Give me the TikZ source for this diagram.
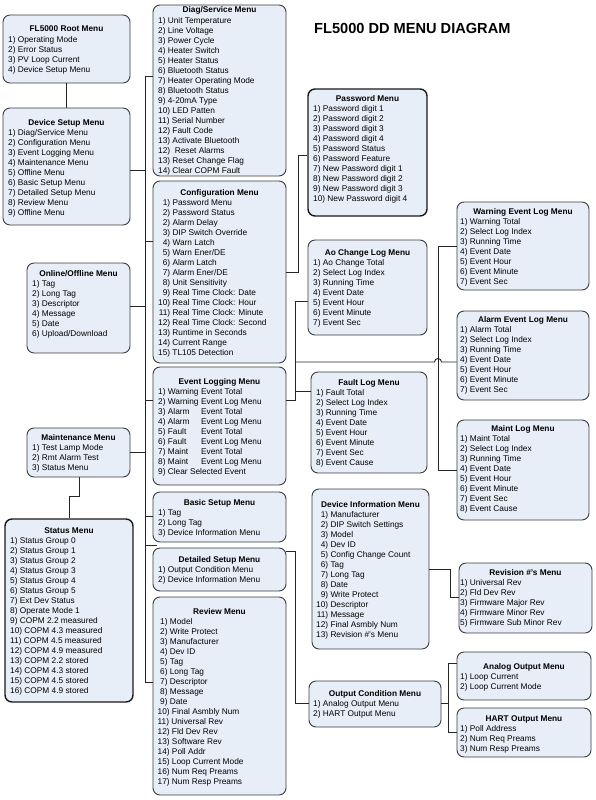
\documentclass[tikz,border=0pt]{standalone}
\usepackage{fontspec}
\setmainfont{Liberation Sans}
\usetikzlibrary{fit}
\definecolor{boxfill}{RGB}{232,238,248}
\definecolor{boxline}{RGB}{60,60,60}
\tikzset{
  menubox/.style={draw=boxline, fill=boxfill, rounded corners=7pt, line width=0.9pt, inner sep=0pt},
  thickbox/.style={line width=1.4pt, draw=black!90},
  ttl/.style={font=\fontsize{8.3}{10}\bfseries\selectfont, inner sep=0pt, anchor=base},
  itm/.style={font=\fontsize{8.3}{10}\selectfont, inner sep=0pt, anchor=north west, align=left},
  wire/.style={line width=0.9pt, draw=black!85},
}
\newcommand\rn[1]{\makebox[12pt][r]{#1}}
\newcommand\ev[1]{\makebox[43pt][l]{#1}}
\newcommand\ri{\hspace*{2.5pt}}
% name, options, corner1, corner2, title y, item x, title, items
\newcommand\fmenu[8]{%
  \node[menubox, #2, fit={(#3) (#4)}] (#1) {};
  \node[ttl] (#1-t) at (#1.north |- 0,#5+3) {#7};
  \node[itm] (#1-i) at (#6,#5+6) {\rule{0pt}{7pt}#8};
}
\begin{document}
\begin{tikzpicture}[x=1pt,y=-1pt]
\useasboundingbox (0,0) rectangle (596,800);

\node[font=\fontsize{14.6}{17}\bfseries\selectfont, inner sep=0pt, anchor=base west] (title) at (314,34) {FL5000 DD MENU DIAGRAM};

\fmenu{root}{}{3,15}{130,83}{29}{8}{FL5000 Root Menu}{1) Operating Mode\\2) Error Status\\3) PV Loop Current\\4) Device Setup Menu}

\fmenu{dev}{}{3,108}{130,225}{122}{8}{Device Setup Menu}{1) Diag/Service Menu\\2) Configuration Menu\\3) Event Logging Menu\\4) Maintenance Menu\\5) Offline Menu\\6) Basic Setup Menu\\7) Detailed Setup Menu\\8) Review Menu\\9) Offline Menu}

\fmenu{online}{}{27,263}{130,353}{273}{32}{Online/Offline Menu}{1) Tag\\2) Long Tag\\3) Descriptor\\4) Message\\5) Date\\6) Upload/Download}

\fmenu{maint}{}{27,428}{130,477}{437.5}{32}{Maintenance Menu}{1) Test Lamp Mode\\2) Rmt Alarm Test\\3) Status Menu}

\fmenu{status}{thickbox}{5,519}{133,702}{530}{10}{Status Menu}{1) Status Group 0\\2) Status Group 1\\3) Status Group 2\\4) Status Group 3\\5) Status Group 4\\6) Status Group 5\\7) Ext Dev Status\\8) Operate Mode 1\\9) COPM 2.2 measured\\10) COPM 4.3 measured\\11) COPM 4.5 measured\\12) COPM 4.9 measured\\13) COPM 2.2 stored\\14) COPM 4.3 stored\\15) COPM 4.5 stored\\16) COPM 4.9 stored}

\fmenu{diag}{}{153,5}{286,176}{10}{158}{Diag/Service Menu}{1) Unit Temperature\\2) Line Voltage\\3) Power Cycle\\4) Heater Switch\\5) Heater Status\\6) Bluetooth Status\\7) Heater Operating Mode\\8) Bluetooth Status\\9) 4-20mA Type\\10) LED Patten\\11) Serial Number\\12) Fault Code\\13) Activate Bluetooth\\12) \ Reset Alarms\\13) Reset Change Flag\\14) Clear COPM Fault}

\fmenu{config}{}{153,181}{286,363}{192}{158}{Configuration Menu}{\rn{1)} Password Menu\\\rn{2)} Password Status\\\rn{2)} Alarm Delay\\\rn{3)} DIP Switch Override\\\rn{4)} Warn Latch\\\rn{5)} Warn Ener/DE\\\rn{6)} Alarm Latch\\\rn{7)} Alarm Ener/DE\\\rn{8)} Unit Sensitivity\\\rn{9)} Real Time Clock: Date\\\rn{10)} Real Time Clock: Hour\\\rn{11)} Real Time Clock: Minute\\\rn{12)} Real Time Clock: Second\\\rn{13)} Runtime in Seconds\\\rn{14)} Current Range\\\rn{15)} TL105 Detection}

\fmenu{event}{}{153,367}{286,485}{381}{158}{Event Logging Menu}{\ev{1) Warning}Event Total\\\ev{2) Warning}Event Log Menu\\\ev{3) Alarm}Event Total\\\ev{4) Alarm}Event Log Menu\\\ev{5) Fault}Event Total\\\ev{6) Fault}Event Log Menu\\\ev{7) Maint}Event Total\\\ev{8) Maint}Event Log Menu\\9) Clear Selected Event}

\fmenu{basic}{}{153,492}{286,542}{502}{158}{Basic Setup Menu}{1) Tag\\2) Long Tag\\3) Device Information Menu}

\fmenu{detailed}{}{153,548}{286,591}{559}{158}{Detailed Setup Menu}{1) Output Condition Menu\\2) Device Information Menu}

\fmenu{review}{}{153,597}{286,795}{611}{157.5}{Review Menu}{\ri1) Model\\\ri2) Write Protect\\\ri3) Manufacturer\\\ri4) Dev ID\\\ri5) Tag\\\ri6) Long Tag\\\ri7) Descriptor\\\ri8) Message\\\ri9) Date\\10) Final Asmbly Num\\11) Universal Rev\\12) Fld Dev Rev\\13) Software Rev\\14) Poll Addr\\15) Loop Current Mode\\16) Num Req Preams\\17) Num Resp Preams}

\fmenu{password}{thickbox}{308,89}{427,216}{98}{313}{Password Menu}{1) Password digit 1\\2) Password digit 2\\3) Password digit 3\\4) Password digit 4\\5) Password Status\\6) Password Feature\\7) New Password digit 1\\8) New Password digit 2\\9) New Password digit 3\\10) New Password digit 4}

\fmenu{ao}{}{308,240}{427,335}{252}{313}{Ao Change Log Menu}{1) Ao Change Total\\2) Select Log Index\\3) Running Time\\4) Event Date\\5) Event Hour\\6) Event Minute\\7) Event Sec}

\fmenu{fault}{}{311,372}{427,473}{382}{316}{Fault Log Menu}{1) Fault Total\\2) Select Log Index\\3) Running Time\\4) Event Date\\5) Event Hour\\6) Event Minute\\7) Event Sec\\8) Event Cause}

\fmenu{warning}{}{457,202}{589,290}{211}{460}{Warning Event Log Menu}{1) Warning Total\\2) Select Log Index\\3) Running Time\\4) Event Date\\5) Event Hour\\6) Event Minute\\7) Event Sec}

\fmenu{alarm}{}{457,311}{589,400}{319.5}{460}{Alarm Event Log Menu}{1) Alarm Total\\2) Select Log Index\\3) Running Time\\4) Event Date\\5) Event Hour\\6) Event Minute\\7) Event Sec}

\fmenu{mlog}{}{457,420}{589,520}{428.5}{460}{Maint Log Menu}{1) Maint Total\\2) Select Log Index\\3) Running Time\\4) Event Date\\5) Event Hour\\6) Event Minute\\7) Event Sec\\8) Event Cause}

\fmenu{devinfo}{}{312,489}{429,649}{504}{316}{Device Information Menu}{\rn{1)} Manufacturer\\\rn{2)} DIP Switch Settings\\\rn{3)} Model\\\rn{4)} Dev ID\\\rn{5)} Config Change Count\\\rn{6)} Tag\\\rn{7)} Long Tag\\\rn{8)} Date\\\rn{9)} Write Protect\\\rn{10)} Descriptor\\\rn{11)} Message\\\rn{12)} Final Asmbly Num\\\rn{13)} Revision \#'s Menu}

\fmenu{revision}{}{459,563}{592,633}{572}{460}{Revision \#'s Menu}{1) Universal Rev\\2) Fld Dev Rev\\3) Firmware Major Rev\\4) Firmware Minor Rev\\5) Firmware Sub Minor Rev}

\fmenu{outcond}{}{309,681}{441,727}{693.5}{313}{Output Condition Menu}{1) Analog Output Menu\\2) HART Output Menu}

\fmenu{analog}{}{457,652}{591,700}{666}{460}{Analog Output Menu}{1) Loop Current\\2) Loop Current Mode}

\fmenu{hart}{}{457,708}{591,757}{718}{460}{HART Output Menu}{1) Poll Address\\2) Num Req Preams\\3) Num Resp Preams}

% connectors
\draw[wire] (root.south) -- (dev.north);

\coordinate (bt) at (145,76);
\coordinate (bb) at (145,682);
\coordinate (dstub) at (157,545);
\draw[wire] (bt) -- (bb);
\draw[wire] (bt) -- (diag.west |- bt);
\draw[wire] (dev.east |- 0,170) -- (bt |- 0,170);
\draw[wire] (bt |- 0,241) -- (config.west |- 0,241);
\draw[wire] (online.east |- 0,306) -- (bt |- 0,306);
\draw[wire] (bt |- 0,400) -- (event.west |- 0,400);
\draw[wire] (maint.east |- 0,452) -- (bt |- 0,452);
\draw[wire] (bt |- 0,516) -- (basic.west |- 0,516);
\draw[wire] (bt |- dstub) -- (dstub);
\draw[wire] (bb) -- (review.west |- bb);

\coordinate (m1) at (79,496);
\coordinate (m2) at (69,496);
\draw[wire] (maint.south -| m1) -- (m1) -- (m2) -- (status.north -| m2);

\coordinate (p1) at (298,272);
\draw[wire] (config.east |- p1) -- (p1) -- (p1 |- 0,155) -- (password.west |- 0,155);

\coordinate (e1) at (295,400);
\coordinate (e2) at (295,301);
\draw[wire] (event.east |- e1) -- (e1) -- (e2) -- (ao.west |- e2);
\draw[wire] (e1 |- 0,391) -- (fault.west |- 0,391);

\coordinate (j1) at (295,362);
\draw[wire] (j1) -- (434.5,362) arc[start angle=180, end angle=0, radius=3.5pt] -- (alarm.west |- j1);

\coordinate (w1) at (438,246);
\coordinate (w2) at (438,470);
\draw[wire] (warning.west |- w1) -- (w1) -- (w2) -- (mlog.west |- w2);

\coordinate (r1) at (450,569);
\draw[wire] (devinfo.east |- r1) -- (r1) -- (r1 |- 0,597) -- (revision.west |- 0,597);

\coordinate (o1) at (295,551);
\coordinate (o2) at (295,703);
\draw[wire] (detailed.east |- o1) -- (o1) -- (o2) -- (outcond.west |- o2);

\coordinate (h0) at (448,703);
\coordinate (h1) at (448,663);
\coordinate (h2) at (448,732);
\draw[wire] (outcond.east |- h0) -- (h0);
\draw[wire] (analog.west |- h1) -- (h1) -- (h2) -- (hart.west |- h2);
\end{tikzpicture}
\end{document}
